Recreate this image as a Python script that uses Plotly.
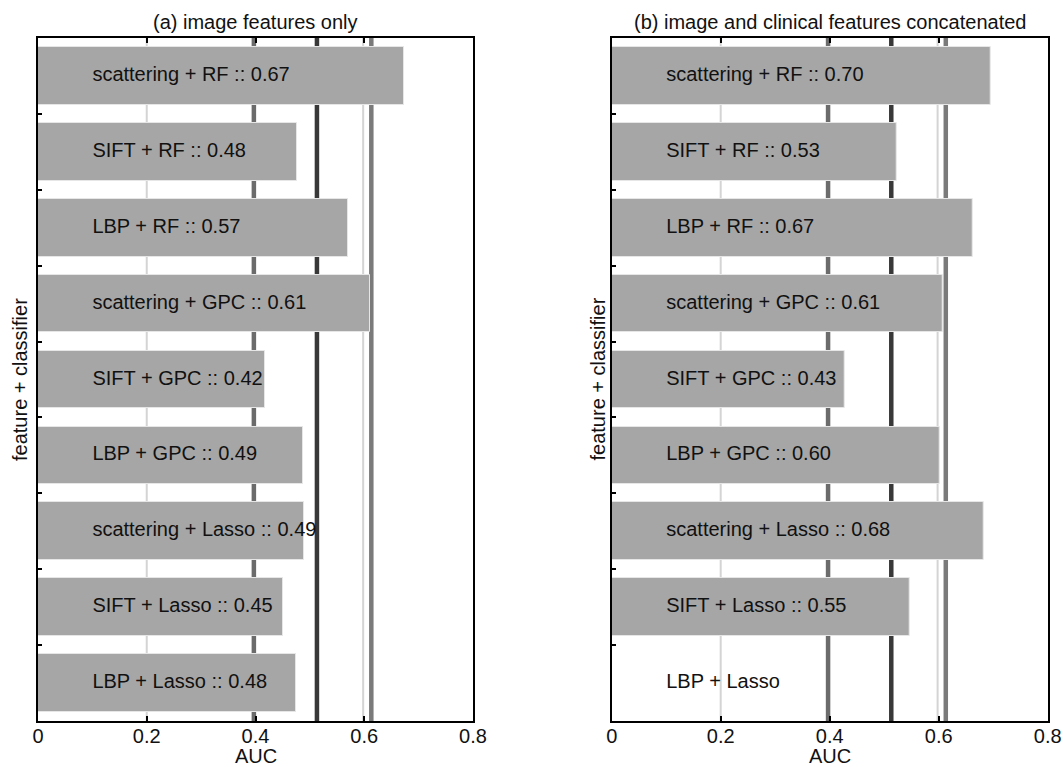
import plotly.graph_objects as go

# ---- data ----
categories = [
    "scattering + RF", "SIFT + RF", "LBP + RF",
    "scattering + GPC", "SIFT + GPC", "LBP + GPC",
    "scattering + Lasso", "SIFT + Lasso", "LBP + Lasso",
]
auc_a = [0.673, 0.476, 0.570, 0.610, 0.417, 0.487, 0.489, 0.451, 0.475]
auc_a_text = ["0.67", "0.48", "0.57", "0.61", "0.42", "0.49", "0.49", "0.45", "0.48"]
auc_b = [0.695, 0.523, 0.662, 0.607, 0.428, 0.602, 0.682, 0.547, None]
auc_b_text = ["0.70", "0.53", "0.67", "0.61", "0.43", "0.60", "0.68", "0.55", None]

panel_titles = ["(a) image features only", "(b) image and clinical features concatenated"]
x_title = "AUC"
y_title = "feature + classifier"
x_ticks = [0, 0.2, 0.4, 0.6, 0.8]
x_tick_labels = ["0", "0.2", "0.4", "0.6", "0.8"]
label_x = 0.1

ref_lines = [0.2, 0.397, 0.513, 0.598, 0.613]
ref_colors = ["#d4d4d4", "#6b6b6b", "#383838", "#d4d4d4", "#7a7a7a"]
ref_widths = [2, 4.5, 4.5, 2, 4.5]

FONT = "Liberation Sans, Arial, Helvetica, sans-serif"
TXT = "#111111"
W, H = 1063, 767

ypos = list(range(len(categories)))

fig = go.Figure()

panels = [
    (auc_a, auc_a_text, "x", "y"),
    (auc_b, auc_b_text, "x2", "y2"),
]
for vals, txts, xa, ya in panels:
    fig.add_trace(go.Bar(
        x=vals, y=ypos, orientation="h", width=0.76,
        marker=dict(color="#a6a6a6", line=dict(color="#e6e6e6", width=1)),
        xaxis=xa, yaxis=ya, showlegend=False, hoverinfo="skip",
    ))
    labels = [c if t is None else f"{c} :: {t}" for c, t in zip(categories, txts)]
    fig.add_trace(go.Scatter(
        x=[label_x] * len(categories), y=ypos, mode="text", text=labels,
        textposition="middle right",
        textfont=dict(family=FONT, size=20, color=TXT),
        xaxis=xa, yaxis=ya, showlegend=False, hoverinfo="skip",
    ))

shapes = []
for xa, ya in [("x", "y"), ("x2", "y2")]:
    for xv, col, wd in zip(ref_lines, ref_colors, ref_widths):
        shapes.append(dict(type="line", xref=xa, yref=f"{ya} domain",
                           x0=xv, x1=xv, y0=0, y1=1, layer="below",
                           line=dict(color=col, width=wd)))

ydom = [1 - 721 / H, 1 - 38 / H]
xdom_a = [38 / W, 473 / W]
xdom_b = [611.7 / W, 1047.7 / W]

def xaxis(domain, anchor):
    return dict(domain=domain, anchor=anchor, range=[0, 0.8],
                tickvals=x_ticks, ticktext=x_tick_labels,
                ticks="inside", ticklen=5, tickwidth=2, tickcolor="black",
                showline=True, linewidth=2, linecolor="black", mirror="ticks",
                showgrid=False, zeroline=False, ticklabelstandoff=-4,
                tickfont=dict(family=FONT, size=20, color=TXT),
                automargin=False)

def yaxis(anchor):
    return dict(domain=ydom, anchor=anchor, range=[8.5, -0.5],
                tickvals=[i + 0.5 for i in range(len(categories) - 1)],
                ticks="inside", ticklen=4, tickwidth=2, tickcolor="black",
                showticklabels=False,
                showline=True, linewidth=2, linecolor="black", mirror=True,
                showgrid=False, zeroline=False,
                automargin=False)

annotations = []
ymid = 1 - (38 + 721) / 2 / H
for dom, t, ytx in [(xdom_a, panel_titles[0], 19.5), (xdom_b, panel_titles[1], 597)]:
    xc = (dom[0] + dom[1]) / 2
    annotations.append(dict(text=t, xref="paper", yref="paper",
                            x=xc, y=1 - 22 / H,
                            xanchor="center", yanchor="middle", showarrow=False,
                            font=dict(family=FONT, size=20, color=TXT)))
    annotations.append(dict(text=x_title, xref="paper", yref="paper",
                            x=xc, y=1 - 755.5 / H,
                            xanchor="center", yanchor="middle", showarrow=False,
                            font=dict(family=FONT, size=20, color=TXT)))
    annotations.append(dict(text=y_title, xref="paper", yref="paper",
                            x=ytx / W, y=ymid, textangle=-90,
                            xanchor="center", yanchor="middle", showarrow=False,
                            font=dict(family=FONT, size=20, color=TXT)))

fig.update_layout(
    width=W, height=H, margin=dict(l=0, r=0, t=0, b=0),
    paper_bgcolor="white", plot_bgcolor="white",
    xaxis=xaxis(xdom_a, "y"), yaxis=yaxis("x"),
    xaxis2=xaxis(xdom_b, "y2"), yaxis2=yaxis("x2"),
    shapes=shapes, annotations=annotations, bargap=0,
)

fig.write_html("out.html")
